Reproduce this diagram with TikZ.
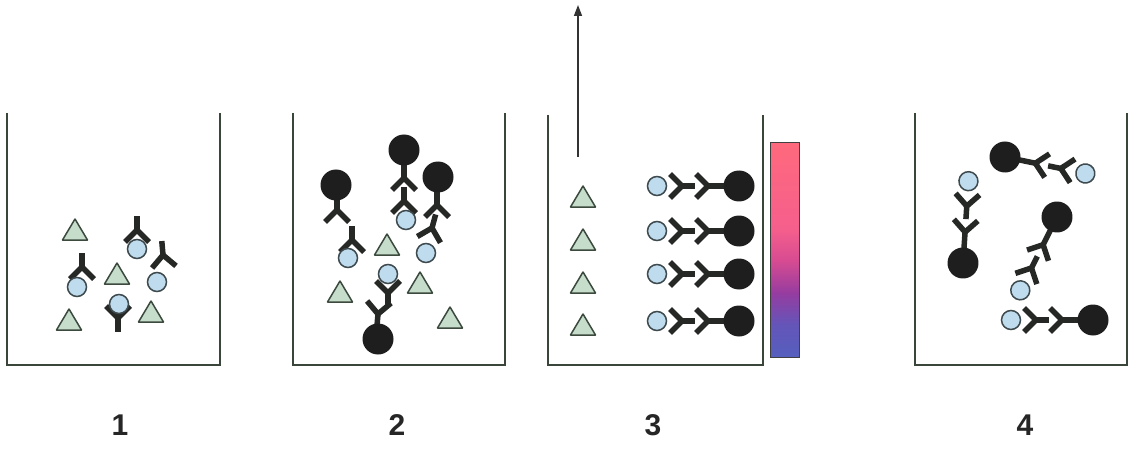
\documentclass[tikz,border=0pt]{standalone}
\usepackage{fontspec}
\setmainfont{Liberation Sans}
\usetikzlibrary{arrows.meta}

\definecolor{wall}{HTML}{3B463B}
\definecolor{abcol}{HTML}{262826}
\definecolor{ballcol}{HTML}{1E1E1E}
\definecolor{agfill}{HTML}{BFDBEE}
\definecolor{agline}{HTML}{3E4A4E}
\definecolor{trifill}{HTML}{C6DDCC}
\definecolor{triline}{HTML}{3C4A3E}
\definecolor{barA}{RGB}{85,95,190}
\definecolor{barB}{RGB}{100,85,185}
\definecolor{barC}{RGB}{150,60,160}
\definecolor{barD}{RGB}{215,75,145}
\definecolor{barE}{RGB}{245,95,140}
\definecolor{barF}{RGB}{255,105,125}

% colour scale: blue at the bottom, pink at the top
% (a shaded path is mapped onto the inner 25bp--75bp band)
\pgfdeclareverticalshading{colscale}{100bp}{
  color(0bp)=(barA); color(25bp)=(barA); color(32.5bp)=(barB);
  color(40bp)=(barC); color(47.5bp)=(barD); color(55bp)=(barE);
  color(75bp)=(barF); color(100bp)=(barF)}

\tikzset{
  x=1pt, y=-1pt,
  wallline/.style={draw=wall, line width=1.6pt},
  abline/.style={draw=abcol, line width=5.5pt, line cap=butt, line join=round},
  arrowline/.style={draw=black!80, line width=1.5pt, -{Triangle[length=11pt,width=8pt]}},
  lbl/.style={font=\fontsize{30}{30}\selectfont\bfseries, text=black!85, inner sep=0pt},
  % Y-shaped antibody: vertex at the origin, arms open upwards
  pics/antibody/.style={code={
    \draw[abline] (-12,-12) -- (0,0) -- (12,-12);
    \draw[abline] (0,0) -- (0,14);}},
  % round antigen
  pics/antigen/.style={code={
    \draw[fill=agfill, draw=agline, line width=1.5pt] (0,0) circle[radius=9.5];}},
  % triangular substance
  pics/hapten/.style={code={
    \draw[fill=trifill, draw=triline, line width=1.5pt, line join=round]
      (-12.5,10) -- (12.5,10) -- (0,-11) -- cycle;}},
  % enzyme label
  pics/ball/.style={code={\fill[ballcol] (0,0) circle[radius=15.5];}},
  % labelled antibody + antibody + antigen, chain running upwards from the ball
  pics/complex/.style={code={
    \draw[abline] (0,-31) -- (0,0);
    \draw[abline] (-12,-43) -- (0,-31) -- (12,-43);
    \fill[ballcol] (0,0) circle[radius=15.5];
    \draw[abline] (-12,-69) -- (0,-57) -- (12,-69);
    \draw[abline] (0,-57) -- (0,-44);
    \draw[fill=agfill, draw=agline, line width=1.5pt] (0,-82) circle[radius=9.5];}}
}

\begin{document}
\begin{tikzpicture}
\useasboundingbox (0,0) rectangle (1129,449);
\fill[white] (0,0) rectangle (1129,449);

% vessels
\draw[wallline] (7,113) -- (7,365) -- (220,365) -- (220,113);
\draw[wallline] (293,113) -- (293,365) -- (505,365) -- (505,113);
\draw[wallline] (548,115) -- (548,365) -- (763,365) -- (763,115);
\draw[wallline] (915,113) -- (915,365) -- (1127,365) -- (1127,113);

% ---- vessel 1
\pic at (75,230) {hapten};
\pic at (117,274) {hapten};
\pic at (69,320) {hapten};
\pic at (151,312) {hapten};
\pic[rotate=180] at (137,230) {antibody};
\pic[rotate=185] at (163,255) {antibody};
\pic[rotate=180] at (82,267) {antibody};
\pic at (118,318) {antibody};
\pic at (137,249) {antigen};
\pic at (77,287) {antigen};
\pic at (157,282) {antigen};
\pic at (119,304) {antigen};

% ---- vessel 2
\pic at (387,245) {hapten};
\pic at (340,292) {hapten};
\pic at (420,283) {hapten};
\pic at (450,318) {hapten};
\pic[rotate=180] at (337,210) {antibody};
\pic[rotate=180] at (352,240) {antibody};
\pic[rotate=180] at (404,178) {antibody};
\pic[rotate=180] at (404,201) {antibody};
\pic[rotate=180] at (437,205) {antibody};
\pic[rotate=165] at (432,228) {antibody};
\pic at (388,293) {antibody};
\pic[rotate=-5] at (378,314) {antibody};
\pic at (336,185) {ball};
\pic at (404,150) {ball};
\pic at (438,177) {ball};
\pic at (378,339) {ball};
\pic at (348,258) {antigen};
\pic at (406,220) {antigen};
\pic at (426,253) {antigen};
\pic at (388,274) {antigen};

% ---- vessel 3
\coordinate (arrowfoot) at (578,157);
\coordinate (arrowtip) at (578,5);
\draw[arrowline] (arrowfoot) -- (arrowtip);
\pic at (583,197) {hapten};
\pic at (583,240) {hapten};
\pic at (583,283) {hapten};
\pic at (583,325) {hapten};
\pic[rotate=90] at (739,186) {complex};
\pic[rotate=90] at (739,231) {complex};
\pic[rotate=90] at (739,274) {complex};
\pic[rotate=90] at (739,321) {complex};
\shade[shading=colscale] (770,143) rectangle (799,357);
\draw[draw=black!75, line width=1pt] (770,143) rectangle (799,357);

% ---- vessel 4
\pic[rotate=-101.6] at (1005,157) {complex};
\pic[rotate=-3.8] at (963,263) {complex};
\pic[rotate=153.4] at (1057,217) {complex};
\pic[rotate=90] at (1093,320) {complex};

% step numbers
\node[lbl] (n1) at (120,425) {1};
\node[lbl] (n2) at (397,425) {2};
\node[lbl] (n3) at (653,425) {3};
\node[lbl] (n4) at (1025,425) {4};
\end{tikzpicture}
\end{document}
